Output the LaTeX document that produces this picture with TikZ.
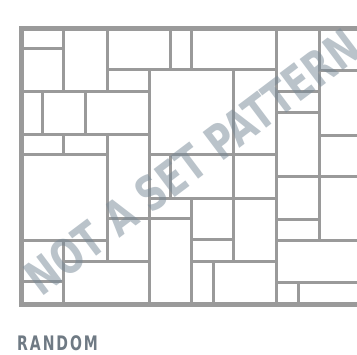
\documentclass[tikz,border=0pt]{standalone}
\usepackage{fontspec}
\setmainfont{Liberation Sans}
\newfontfamily\wmfont{DejaVuSansCondensed-Bold}[Extension=.ttf]
\definecolor{tile}{HTML}{9A9A9A}
\definecolor{wmark}{RGB}{118,136,150}
\definecolor{lbl}{HTML}{6F7A84}
\begin{document}
\begin{tikzpicture}[x=1pt,y=-1pt,
  joint/.style={draw=tile,line width=3pt,line cap=rect},
  frameline/.style={draw=tile,line width=5pt,line join=miter}]
\useasboundingbox (0,0) rectangle (357,355);
\fill[white] (0,0) rectangle (357,355);
\begin{scope}
\clip (0,0) rectangle (357,355);
% outer frame
\draw[frameline] (370,28.5) -- (21.5,28.5) -- (21.5,304.5) -- (370,304.5);
% vertical joints
\draw[joint] (63,31) -- (63,92);
\draw[joint] (63,135) -- (63,155);
\draw[joint] (63,241) -- (63,302);
\draw[joint] (42,92) -- (42,135);
\draw[joint] (85,92) -- (85,135);
\draw[joint] (107,31) -- (107,92);
\draw[joint] (107,135) -- (107,262);
\draw[joint] (149,70) -- (149,302);
\draw[joint] (170,31) -- (170,70);
\draw[joint] (170,155) -- (170,199);
\draw[joint] (191,31) -- (191,70);
\draw[joint] (191,199) -- (191,302);
\draw[joint] (233,70) -- (233,262);
\draw[joint] (213,262) -- (213,302);
\draw[joint] (276,31) -- (276,302);
\draw[joint] (319,31) -- (319,241);
\draw[joint] (298,283) -- (298,302);
% horizontal joints
\draw[joint] (24,49) -- (63,49);
\draw[joint] (24,92) -- (149,92);
\draw[joint] (24,135) -- (149,135);
\draw[joint] (24,155) -- (107,155);
\draw[joint] (149,155) -- (276,155);
\draw[joint] (24,241) -- (107,241);
\draw[joint] (24,282) -- (63,282);
\draw[joint] (63,262) -- (149,262);
\draw[joint] (191,262) -- (276,262);
\draw[joint] (107,219) -- (191,219);
\draw[joint] (107,70) -- (276,70);
\draw[joint] (319,71) -- (360,71);
\draw[joint] (149,199) -- (276,199);
\draw[joint] (191,240) -- (233,240);
\draw[joint] (276,92) -- (319,92);
\draw[joint] (276,113) -- (319,113);
\draw[joint] (319,136) -- (360,136);
\draw[joint] (276,177) -- (360,177);
\draw[joint] (276,220) -- (319,220);
\draw[joint] (276,241) -- (360,241);
\draw[joint] (276,283) -- (360,283);
% watermark
\node[rotate=37, inner sep=0pt, text=wmark, text opacity=0.5,
  font=\wmfont\fontsize{48}{48}\selectfont] (wm) at (192.5,162)
  {\scalebox{0.83}[1]{NOT A SET PATTERN}};
\end{scope}
% label
\node[anchor=base west, inner sep=0pt, text=lbl,
  font=\wmfont\fontsize{20}{20}\selectfont] (label) at (17,351)
  {\scalebox{0.78}[1]{R\kern2.5pt A\kern2.5pt N\kern2.5pt D\kern2.5pt O\kern2.5pt M}};
\end{tikzpicture}
\end{document}
